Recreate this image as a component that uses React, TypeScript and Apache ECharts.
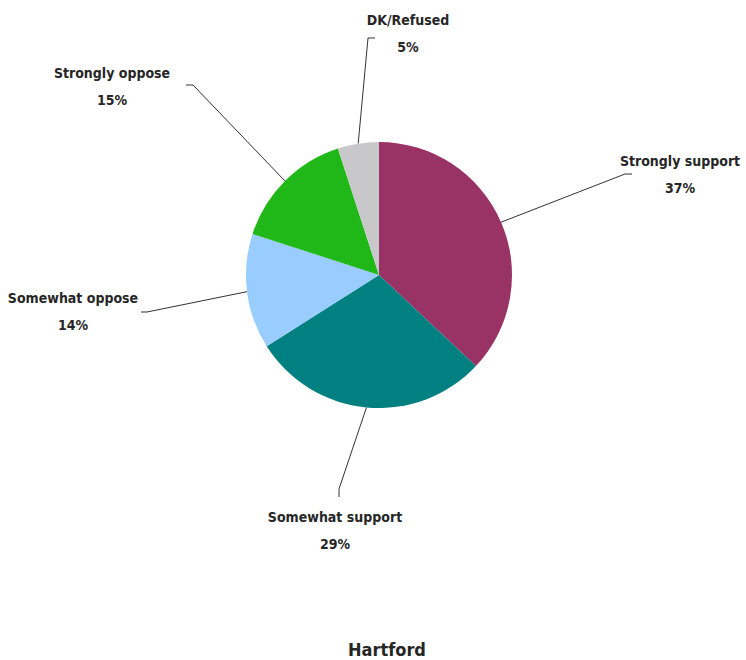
import React, { useEffect, useRef } from "react";
import * as echarts from "echarts";

const categories = ["Strongly support", "Somewhat support", "Somewhat oppose", "Strongly oppose", "DK/Refused"];
const values = [37, 29, 14, 15, 5];
const colors = ["#993366", "#008080", "#99CCFF", "#20B718", "#C8C8CA"];
const chartTitle = "Hartford";

// label layout: [labelCenterX, labelCenterY, bendX, bendY, endX, endY]
const labelLayoutPos = [
  [680, 174, 625, 174, 632, 174],
  [335, 530, 339, 489, 339, 497],
  [73, 311, 147, 312, 141, 312],
  [112, 86, 193, 85, 186, 85],
  [408, 33, 368, 38, 375, 38],
];

const FONT = "'Liberation Sans Narrow', 'DejaVu Sans Condensed', 'Roboto', sans-serif";

export default function App() {
  const ref = useRef<HTMLDivElement>(null);
  useEffect(() => {
    document.body.style.margin = "0";
    const chart = echarts.init(ref.current!, null, { renderer: "svg" });
    chart.setOption({
      animation: false,
      backgroundColor: "#ffffff",
      title: {
        text: chartTitle,
        left: 343,
        top: 634,
        textStyle: { fontFamily: FONT, fontWeight: "bold", fontSize: 18, lineHeight: 20, color: "#262626" },
      },
      series: [
        {
          type: "pie",
          center: [379, 275],
          radius: 133,
          startAngle: 90,
          clockwise: true,
          data: categories.map((name, i) => ({
            name,
            value: values[i],
            itemStyle: { color: colors[i] },
          })),
          label: {
            show: true,
            position: "outside",
            formatter: "{b}\n{c}%",
            fontFamily: FONT,
            fontWeight: "bold",
            fontSize: 14,
            lineHeight: 27,
            color: "#262626",
            align: "center",
          },
          labelLine: {
            show: true,
            lineStyle: { color: "#333333", width: 1 },
          },
          labelLayout: (params: any) => {
            const p = labelLayoutPos[params.dataIndex];
            const start = params.labelLinePoints ? params.labelLinePoints[0] : [p[2], p[3]];
            return {
              x: p[0],
              y: p[1],
              align: "center",
              verticalAlign: "middle",
              labelLinePoints: [start, [p[2], p[3]], [p[4], p[5]]],
            };
          },
        },
      ],
    });
    return () => chart.dispose();
  }, []);
  return <div ref={ref} style={{ width: 746, height: 660 }} />;
}
